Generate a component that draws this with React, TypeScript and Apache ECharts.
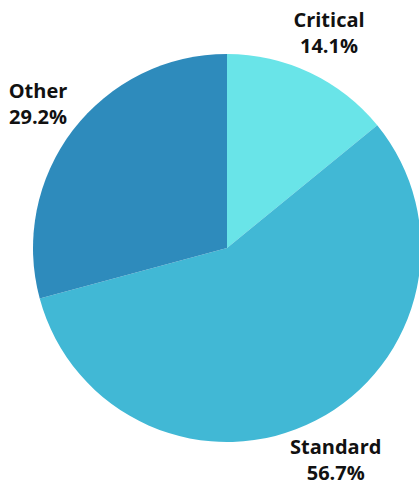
import React, { useEffect, useRef } from "react";
import * as echarts from "echarts";

const categories = ["Critical", "Standard", "Other"];
const values = [14.1, 56.7, 29.2];
const colors = ["#69E4E8", "#41B8D5", "#2E8BBC"];

export default function App() {
  const ref = useRef<HTMLDivElement>(null);
  useEffect(() => {
    if (!ref.current) return;
    const chart = echarts.init(ref.current, null, { renderer: "svg" });
    const data = categories.map((name, i) => ({
      name,
      value: values[i],
      itemStyle: { color: colors[i] },
    }));
    chart.setOption({
      animation: false,
      backgroundColor: "#ffffff",
      series: [
        {
          type: "pie",
          center: [227, 248],
          radius: [0, 194],
          startAngle: 90,
          clockwise: true,
          data,
          label: { show: false },
          labelLine: { show: false },
          silent: true,
        },
        {
          type: "pie",
          center: [227, 248],
          radius: [226, 244],
          startAngle: 90,
          clockwise: true,
          data: categories.map((name, i) => ({ name, value: values[i] })),
          itemStyle: { color: "rgba(0,0,0,0)" },
          silent: true,
          labelLine: { show: false },
          label: {
            show: true,
            position: "inside",
            formatter: (p: any) => `${p.name}\n${p.value.toFixed(1)}%`,
            fontFamily: "Open Sans",
            fontWeight: "bold",
            fontSize: 20,
            lineHeight: 26,
            color: "#111111",
            align: "center",
          },
        },
      ],
    });
    return () => chart.dispose();
  }, []);
  return (
    <div
      ref={ref}
      style={{ position: "fixed", left: 0, top: 0, width: 419, height: 485 }}
    />
  );
}
